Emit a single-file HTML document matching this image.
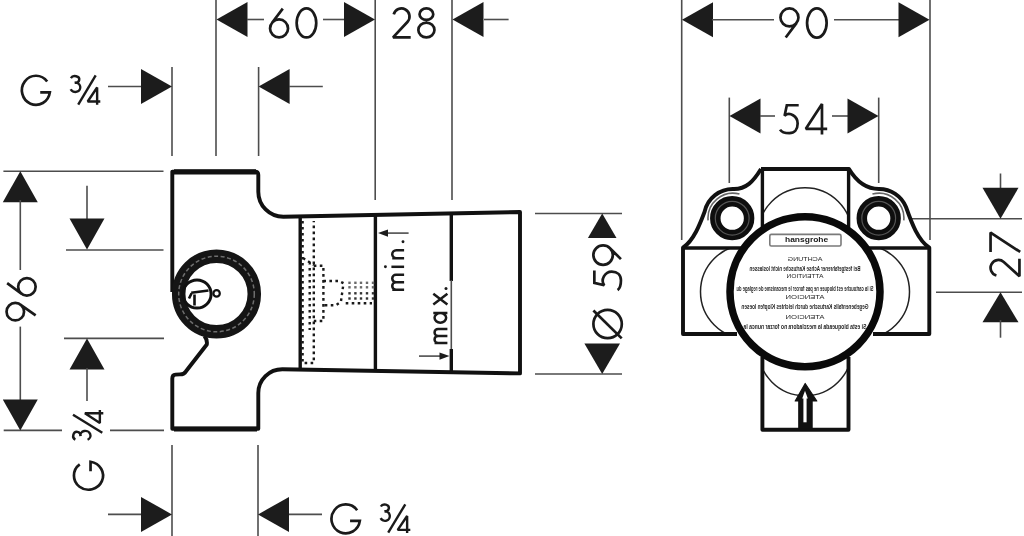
<!DOCTYPE html>
<html><head><meta charset="utf-8"><style>
html,body{margin:0;padding:0;background:#fff;width:1024px;height:536px;overflow:hidden}
svg{display:block;filter:grayscale(1)}
text{font-family:"Liberation Sans",sans-serif;fill:#1a1a1a}
.t{stroke:#4d4d4d;stroke-width:1.6;fill:none}
.k{stroke:#111;stroke-width:3.9;fill:none;stroke-linejoin:round}
.k5{stroke:#111;stroke-width:5.2;fill:none}
.k3{stroke:#111;stroke-width:3.4;fill:none}
.k2{stroke:#111;stroke-width:2.4;fill:none}
.w{stroke:#fff;stroke-width:2.4}
.ah{fill:#1c1c1c}
.ring{fill:none;stroke:#151515;stroke-width:13.5}
.ringd{fill:none;stroke:#6e6e6e;stroke-width:1.5;stroke-dasharray:4 2.5}
.big{fill:none;stroke:#0a0a0a;stroke-width:7.5}
.boss{fill:none;stroke:#0e0e0e;stroke-width:10.5}
.bossh{fill:none;stroke:#666;stroke-width:1.6}
.bossg{fill:none;stroke:#555;stroke-width:1.2}
.pa{fill:none;stroke:#222;stroke-width:1.5}
.dash{fill:none;stroke:#1a1a1a;stroke-width:2.4;stroke-dasharray:2.6 3.4}
.lg{font-size:8px;font-weight:bold;fill:#1a1a1a}
.st{font-size:6.6px;fill:#1e1e1e;font-weight:bold}
.ss{font-size:5.6px;fill:#222}
.gl{fill:none;stroke:#1a1a1a;stroke-linecap:butt;stroke-linejoin:miter;stroke-miterlimit:1.6}
</style></head><body>
<svg width="1024" height="536" viewBox="0 0 1024 536">
<defs>
<clipPath id="bodyclip"><path d="M762.4,169 H848.6 V247.7 H929.3 V334 H848.6 V429.7 H762.4 V334 H683 V247.7 H762.4 Z"/></clipPath>
<clipPath id="inner"><circle cx="805" cy="291.7" r="71"/></clipPath>
<mask id="bigmask"><rect width="1024" height="536" fill="#fff"/><circle cx="805" cy="291.7" r="75" fill="#000"/></mask>
</defs>
<line class="t" x1="172.0" y1="67.0" x2="172.0" y2="156.0"/>
<line class="t" x1="216.0" y1="0.0" x2="216.0" y2="156.0"/>
<line class="t" x1="258.6" y1="67.0" x2="258.6" y2="156.0"/>
<line class="t" x1="375.2" y1="0.0" x2="375.2" y2="200.0"/>
<line class="t" x1="452.0" y1="0.0" x2="452.0" y2="200.0"/>
<line class="t" x1="172.0" y1="445.0" x2="172.0" y2="536.0"/>
<line class="t" x1="258.0" y1="445.0" x2="258.0" y2="536.0"/>
<polygon class="ah" points="247.5,2.0 216.5,19.5 247.5,37.0"/>
<line class="t" x1="247.0" y1="19.5" x2="264.0" y2="19.5"/>
<line class="t" x1="323.0" y1="19.5" x2="344.0" y2="19.5"/>
<polygon class="ah" points="344.0,2.0 375.0,19.5 344.0,37.0"/>
<polygon class="ah" points="483.5,2.0 452.5,19.5 483.5,37.0"/>
<line class="t" x1="484.0" y1="19.5" x2="508.6" y2="19.5"/>
<line class="t" x1="108.0" y1="86.5" x2="141.0" y2="86.5"/>
<polygon class="ah" points="141.0,69.0 172.0,86.5 141.0,104.0"/>
<polygon class="ah" points="289.6,69.0 258.6,86.5 289.6,104.0"/>
<line class="t" x1="289.0" y1="86.5" x2="322.8" y2="86.5"/>
<line class="t" x1="108.0" y1="514.4" x2="141.0" y2="514.4"/>
<polygon class="ah" points="141.0,496.9 172.0,514.4 141.0,531.9"/>
<polygon class="ah" points="289.0,496.9 258.0,514.4 289.0,531.9"/>
<line class="t" x1="289.0" y1="514.4" x2="322.0" y2="514.4"/>
<line class="t" x1="3.4" y1="171.2" x2="163.5" y2="171.2"/>
<line class="t" x1="3.7" y1="430.4" x2="62.0" y2="430.4"/>
<line class="t" x1="110.0" y1="430.4" x2="164.0" y2="430.4"/>
<polygon class="ah" points="2.8,202.2 20.3,171.2 37.8,202.2"/>
<line class="t" x1="20.3" y1="200.0" x2="20.3" y2="270.0"/>
<line class="t" x1="20.3" y1="326.6" x2="20.3" y2="401.0"/>
<polygon class="ah" points="2.8,399.4 20.3,430.4 37.8,399.4"/>
<line class="t" x1="66.0" y1="250.0" x2="163.5" y2="250.0"/>
<line class="t" x1="64.0" y1="338.4" x2="164.0" y2="338.4"/>
<line class="t" x1="87.0" y1="185.8" x2="87.0" y2="220.0"/>
<polygon class="ah" points="69.5,218.6 87.0,249.6 104.5,218.6"/>
<polygon class="ah" points="69.5,369.4 87.0,338.4 104.5,369.4"/>
<line class="t" x1="87.0" y1="368.0" x2="87.0" y2="401.0"/>
<line class="t" x1="535.0" y1="213.5" x2="622.0" y2="213.5"/>
<line class="t" x1="535.0" y1="374.0" x2="622.0" y2="374.0"/>
<polygon class="ah" points="587.9,238.0 602.2,213.5 616.5,238.0"/>
<polygon class="ah" points="584.4,343.4 602.2,374.0 620.0,343.4"/>
<path class="k" d="M204.5,336 Q207.5,340 206.8,344.5 L186,371.3 Q184,374.3 180,374.4 L175.5,374.6 Q172.3,374.8 172.3,378.5 V428.7 H258.3 V393 A24,24 0 0 1 282.3,369.3 L520,373.4 V212 L283.3,216.8 A25,25 0 0 1 258.3,191.8 V175 Q258.3,171.6 255,171.6 H172.3 V292"/>
<line class="k3" x1="300.2" y1="216.4" x2="300.2" y2="369.4"/>
<line class="k5" x1="174.0" y1="171.9" x2="256.0" y2="171.9"/>
<line class="k5" x1="174.0" y1="429.0" x2="257.0" y2="429.0"/>
<line class="k3" x1="375.4" y1="215.0" x2="375.4" y2="370.6"/>
<line class="k3" x1="451.3" y1="213.5" x2="451.3" y2="281.0"/>
<line class="t" x1="451.3" y1="280.0" x2="451.3" y2="350.0"/>
<line class="k3" x1="451.3" y1="349.0" x2="451.3" y2="372.6"/>
<circle class="ring" cx="216.5" cy="294" r="37.8"/>
<circle class="ringd" cx="216.5" cy="294" r="37.8"/>
<circle class="k3" style="stroke-width:3" cx="197" cy="294" r="14.1"/>
<circle class="k2" style="stroke-width:2.2" cx="216.6" cy="293.4" r="3.2"/>
<path class="k2" style="stroke-width:2.6" d="M191.2,292.8 L208.5,290.5 M191.6,293.2 L189,298.5 M194.5,294.4 L194.5,305.6"/>
<path class="dash" d="M302.6,221 V363 H313.8 V221 M309.7,262 V330 M303,258 L313.8,265 M313.8,265.7 H323.4 V321 H313.8 M323.4,281 H339 L343.5,283.2 L340.9,301.8 L336,305.2 H323.4 M345.7,303.3 H372"/>
<rect x="348.3" y="281.6" width="2.4" height="2.4" fill="#6a6a6a"/><rect x="354.2" y="281.6" width="2.4" height="2.4" fill="#6a6a6a"/><rect x="359.8" y="281.6" width="2.4" height="2.4" fill="#6a6a6a"/><rect x="365.8" y="281.6" width="2.4" height="2.4" fill="#6a6a6a"/><rect x="371.8" y="281.6" width="2.4" height="2.4" fill="#6a6a6a"/><rect x="348.3" y="286.1" width="2.4" height="2.4" fill="#6a6a6a"/><rect x="354.2" y="286.1" width="2.4" height="2.4" fill="#6a6a6a"/><rect x="359.8" y="286.1" width="2.4" height="2.4" fill="#6a6a6a"/><rect x="365.8" y="286.1" width="2.4" height="2.4" fill="#6a6a6a"/><rect x="371.8" y="286.1" width="2.4" height="2.4" fill="#6a6a6a"/><rect x="348.3" y="292.1" width="2.4" height="2.4" fill="#333"/><rect x="354.2" y="292.1" width="2.4" height="2.4" fill="#333"/><rect x="359.8" y="292.1" width="2.4" height="2.4" fill="#333"/><rect x="365.8" y="292.1" width="2.4" height="2.4" fill="#333"/><rect x="371.8" y="292.1" width="2.4" height="2.4" fill="#333"/><rect x="348.3" y="297.3" width="2.4" height="2.4" fill="#333"/><rect x="354.2" y="297.3" width="2.4" height="2.4" fill="#333"/><rect x="359.8" y="297.3" width="2.4" height="2.4" fill="#333"/><rect x="365.8" y="297.3" width="2.4" height="2.4" fill="#333"/><rect x="371.8" y="297.3" width="2.4" height="2.4" fill="#333"/>
<line class="t" x1="381.0" y1="233.1" x2="408.6" y2="233.1"/>
<polygon class="ah" points="378,233.1 388,229.5 388,236.7"/>
<line class="t" x1="419.0" y1="356.1" x2="442.0" y2="356.1"/>
<polygon class="ah" points="449.5,356.1 439.5,352.5 439.5,359.7"/>
<line class="t" x1="681.7" y1="0.0" x2="681.7" y2="240.0"/>
<line class="t" x1="930.0" y1="0.0" x2="930.0" y2="240.0"/>
<polygon class="ah" points="713.0,2.2 682.0,19.7 713.0,37.2"/>
<line class="t" x1="712.0" y1="19.7" x2="774.0" y2="19.7"/>
<line class="t" x1="834.0" y1="19.7" x2="899.0" y2="19.7"/>
<polygon class="ah" points="898.5,2.2 929.5,19.7 898.5,37.2"/>
<line class="t" x1="729.3" y1="97.6" x2="729.3" y2="183.0"/>
<line class="t" x1="878.7" y1="97.6" x2="878.7" y2="183.0"/>
<polygon class="ah" points="760.5,98.5 729.5,116.0 760.5,133.5"/>
<line class="t" x1="760.0" y1="116.0" x2="775.0" y2="116.0"/>
<line class="t" x1="832.0" y1="116.0" x2="848.0" y2="116.0"/>
<polygon class="ah" points="847.5,98.5 878.5,116.0 847.5,133.5"/>
<line class="t" x1="911.6" y1="218.8" x2="1022.0" y2="218.8"/>
<line class="t" x1="936.0" y1="292.3" x2="1022.0" y2="292.3"/>
<line class="t" x1="1000.5" y1="173.5" x2="1000.5" y2="190.0"/>
<polygon class="ah" points="982.5,187.8 1000.5,218.8 1018.5,187.8"/>
<polygon class="ah" points="982.5,322.3 1000.5,292.3 1018.5,322.3"/>
<line class="t" x1="1000.5" y1="320.0" x2="1000.5" y2="337.7"/>
<g clip-path="url(#bodyclip)"><g mask="url(#bigmask)"><circle class="pa" cx="805" cy="234.7" r="47"/><circle class="pa" cx="805" cy="348.7" r="47"/><circle class="pa" cx="747.5" cy="291.7" r="47"/><circle class="pa" cx="862.5" cy="291.7" r="47"/></g></g>
<path class="k" d="M761,169 H849 C858,184 868,189 879,189 A29,29 0 0 1 906,207 C912,224 918,240 929.3,247.7 V334 H873 M848.5,357 V429.7 H762.4 V357 M737,334 H683 V247.7 C694,240 700,224 704.5,212 A29,29 0 0 1 734,189 C746,189 753,182 761,169"/>
<line class="k3" x1="762.4" y1="169.0" x2="762.4" y2="231.0"/>
<line class="k3" x1="848.6" y1="169.0" x2="848.6" y2="231.0"/>
<line class="k3" x1="683.0" y1="248.0" x2="744.0" y2="248.0"/>
<line class="k3" x1="866.0" y1="248.0" x2="929.0" y2="248.0"/>
<circle class="big" cx="805" cy="291.7" r="75"/>
<circle class="boss" cx="732.2" cy="218.2" r="16.9"/>
<circle class="bossg" cx="732.2" cy="218.2" r="16.9"/>
<circle class="boss" cx="878.7" cy="218.2" r="16.9"/>
<circle class="bossg" cx="878.7" cy="218.2" r="16.9"/>
<path class="bossh" d="M708.10,220.38 A25.00,25.00 0 0 1 739.47,194.05 M872.43,194.05 A25.00,25.00 0 0 1 903.80,220.38"/>
<rect x="769.8" y="234.4" width="71.2" height="11.6" rx="1.5" fill="none" stroke="#7a7a7a" stroke-width="1.6"/>
<text class="lg" x="785" y="241.8" textLength="43.2" lengthAdjust="spacingAndGlyphs">hansgrohe</text>
<g clip-path="url(#inner)">
<text class="ss" x="787.5" y="261.2" textLength="35" lengthAdjust="spacingAndGlyphs" transform="translate(1610,0) scale(-1,1)">ACHTUNG</text>
<text class="st" x="749.5" y="270.5" textLength="111" lengthAdjust="spacingAndGlyphs" transform="translate(1610,0) scale(-1,1)">Bei festgefahrener Achse Kartusche nicht loslassen</text>
<text class="ss" x="786.5" y="277.8" textLength="37" lengthAdjust="spacingAndGlyphs" transform="translate(1610,0) scale(-1,1)">ATTENTION</text>
<text class="st" x="736.5" y="290.8" textLength="137" lengthAdjust="spacingAndGlyphs" transform="translate(1610,0) scale(-1,1)">Si la cartouche est bloquee ne pas forcer le mecanisme de reglage du</text>
<text class="ss" x="785.5" y="299.3" textLength="39" lengthAdjust="spacingAndGlyphs" transform="translate(1610,0) scale(-1,1)">ATENCION</text>
<text class="st" x="741.5" y="308.9" textLength="127" lengthAdjust="spacingAndGlyphs" transform="translate(1610,0) scale(-1,1)">Gegebenenfalls Kartusche durch leichtes Klopfen loesen</text>
<text class="ss" x="785.5" y="319.0" textLength="39" lengthAdjust="spacingAndGlyphs" transform="translate(1610,0) scale(-1,1)">ATENCION</text>
<text class="st" x="743.5" y="329.0" textLength="123" lengthAdjust="spacingAndGlyphs" transform="translate(1610,0) scale(-1,1)">Si esta bloqueada la mezcladora no forzar nunca la</text>
</g>
<path d="M798.8,429 V401 H795.2 L805.2,383.5 L816.8,401 H812.1 V429 Z" fill="#111" stroke="#111" stroke-width="1.2" stroke-linejoin="round"/>
<path d="M805,422.3 V396" stroke="#fff" stroke-width="3.2" fill="none"/><polygon points="802.2,398.5 805,390.8 807.8,398.5" fill="#fff"/>
<path class="gl" style="stroke-width:2.70" transform="translate(268.70,7.30)" d="M14.08 1.35 L3.18 15.71 M1.35 21.15 A9 9 0 1 1 19.35 21.15 A9 9 0 1 1 1.35 21.15 Z"/>
<path class="gl" style="stroke-width:2.70" transform="translate(295.30,7.10)" d="M1.35 15.85 A9.8 14.5 0 1 1 20.95 15.85 A9.8 14.5 0 1 1 1.35 15.85 Z"/>
<path class="gl" style="stroke-width:2.70" transform="translate(391.50,7.10)" d="M2.23 7.31 A8.04 8.04 0 1 1 15.9 14.86 L1.55 30.35 L19.2 30.35"/>
<path class="gl" style="stroke-width:2.70" transform="translate(417.00,7.10)" d="M2.55 7.05 A6.85 5.7 0 1 1 16.25 7.05 A6.85 5.7 0 1 1 2.55 7.05 Z M1.35 22.9 A8.05 7.45 0 1 1 17.45 22.9 A8.05 7.45 0 1 1 1.35 22.9 Z"/>
<path class="gl" style="stroke-width:2.70" transform="translate(779.10,7.10) translate(20.70,31.70) rotate(180)" d="M14.08 1.35 L3.14 15.96 M1.35 21.35 A9 9 0 1 1 19.35 21.35 A9 9 0 1 1 1.35 21.35 Z"/>
<path class="gl" style="stroke-width:2.70" transform="translate(805.70,7.10)" d="M1.35 15.95 A9.8 14.6 0 1 1 20.95 15.95 A9.8 14.6 0 1 1 1.35 15.95 Z"/>
<path class="gl" style="stroke-width:2.70" transform="translate(778.70,103.90)" d="M20 1.35 L8.12 1.35 L5.89 11.78 C10.96 7.5 18.95 12.33 18.95 19.58 C18.95 25.58 15.68 29.25 10.66 29.25 C4.57 29.25 2.44 27.54 1.35 25.7"/>
<path class="gl" style="stroke-width:2.70" transform="translate(804.50,103.10)" d="M17.48 31.4 L17.48 0.81 L1.35 25.75 L22.7 25.75 M17.48 0.81 L17.48 31.4"/>
<path class="gl" style="stroke-width:2.70" transform="translate(20.40,74.20)" d="M26.77 7.35 A14.05 14.55 0 1 0 29.45 18.13 L19.83 18.13"/>
<path class="gl" style="stroke-width:2.40" transform="translate(69.00,74.90)" d="M1.89 3.15 A4.4 3.37 0 1 1 5.88 7.95 M5.62 7.79 A5.05 4.66 0 1 1 1.67 14.41"/>
<line class="gl" style="stroke-width:2.40" x1="78.2" y1="104.6" x2="95.7" y2="75.4"/>
<path class="gl" style="stroke-width:2.40" transform="translate(86.50,86.80)" d="M10.63 17.9 L10.63 0.72 L1.2 14.68 L13.8 14.68 M10.63 0.72 L10.63 17.9"/>
<path class="gl" style="stroke-width:2.70" transform="translate(330.00,502.90)" d="M27.13 7.31 A14.25 14.45 0 1 0 29.85 18.01 L20.07 18.01"/>
<path class="gl" style="stroke-width:2.40" transform="translate(379.00,503.30)" d="M1.83 3.22 A4.2 3.5 0 1 1 5.64 8.2 M5.4 7.97 A4.8 4.82 0 1 1 1.65 14.82"/>
<line class="gl" style="stroke-width:2.40" x1="388.2" y1="532.6" x2="405.3" y2="504.3"/>
<path class="gl" style="stroke-width:2.40" transform="translate(396.50,515.30)" d="M10.63 17.8 L10.63 0.72 L1.2 14.6 L13.8 14.6 M10.63 0.72 L10.63 17.8"/>
<path class="gl" style="stroke-width:2.70" transform="translate(5.20,321.80) rotate(-90) translate(20.20,31.80) rotate(180)" d="M13.74 1.35 L2.95 16.66 M1.35 21.7 A8.75 8.75 0 1 1 18.85 21.7 A8.75 8.75 0 1 1 1.35 21.7 Z"/>
<path class="gl" style="stroke-width:2.70" transform="translate(5.80,296.90) rotate(-90)" d="M13.74 1.35 L3.04 15.92 M1.35 21.1 A8.75 8.75 0 1 1 18.85 21.1 A8.75 8.75 0 1 1 1.35 21.1 Z"/>
<path class="gl" style="stroke-width:2.70" transform="translate(72.40,491.20) rotate(-90)" d="M26.77 7.35 A14.05 14.55 0 1 0 29.45 18.13 L19.83 18.13"/>
<path class="gl" style="stroke-width:2.40" transform="translate(72.00,441.40) rotate(-90)" d="M1.8 3.35 A4.08 3.73 0 1 1 5.5 8.65 M5.26 8.29 A4.65 5.1 0 1 1 1.64 15.55"/>
<line class="gl" style="stroke-width:2.40" x1="73.0" y1="414.7" x2="102.3" y2="432.7"/>
<path class="gl" style="stroke-width:2.40" transform="translate(84.20,424.10) rotate(-90)" d="M10.78 19.1 L10.78 0.72 L1.2 15.66 L14 15.66 M10.78 0.72 L10.78 19.1"/>
<path class="gl" style="stroke-width:2.70" transform="translate(592.00,266.20) rotate(-90) translate(22.20,30.30) rotate(180)" d="M15.1 1.35 L4.19 12.33 M1.35 19.2 A9.75 9.75 0 1 1 20.85 19.2 A9.75 9.75 0 1 1 1.35 19.2 Z"/>
<path class="gl" style="stroke-width:2.70" transform="translate(593.00,291.40) rotate(-90)" d="M20.9 1.35 L8.48 1.35 L6.15 11.28 C11.45 7.18 19.85 11.85 19.85 18.75 C19.85 24.45 16.4 27.95 11.13 27.95 C4.77 27.95 2.54 26.37 1.35 24.61"/>
<circle class="gl" style="stroke-width:2.7" cx="607.6" cy="324" r="14.2"/>
<line class="gl" style="stroke-width:2.70" x1="593.4" y1="310.5" x2="621.7" y2="338.4"/>
<path class="gl" style="stroke-width:2.70" transform="translate(989.20,253.30) rotate(-90)" d="M1.35 1.35 L20.75 1.35 L1.33 31"/>
<path class="gl" style="stroke-width:2.70" transform="translate(989.20,277.70) rotate(-90)" d="M2.21 7.21 A7.9 7.9 0 1 1 15.72 14.55 L1.55 30.25 L18.91 30.25"/>
<path class="gl" style="stroke-width:2.50" transform="translate(391.00,290.90) rotate(-90)" d="M1.25 13.1 L1.25 1.25 M1.25 4.97 A3.72 3.72 0 0 1 8.7 4.97 L8.7 13.1 M8.7 4.97 A3.72 3.72 0 0 1 16.15 4.97 L16.15 13.1"/>
<path class="gl" style="stroke-width:2.50" transform="translate(391.40,268.00) rotate(-90)" d="M1.2 0 L1.2 12.7"/>
<path class="gl" style="stroke-width:2.50" transform="translate(391.00,259.60) rotate(-90)" d="M1.25 13.1 L1.25 1.25 M1.25 5.3 A4.05 4.05 0 0 1 9.35 5.3 L9.35 13.1"/>
<circle cx="385.4" cy="266.8" r="1.45" fill="#1a1a1a"/><circle cx="403" cy="241.8" r="1.45" fill="#1a1a1a"/>
<path class="gl" style="stroke-width:2.50" transform="translate(433.30,344.20) rotate(-90)" d="M1.25 14.1 L1.25 1.25 M1.25 4.75 A3.5 3.5 0 0 1 8.25 4.75 L8.25 14.1 M8.25 4.75 A3.5 3.5 0 0 1 15.25 4.75 L15.25 14.1"/>
<path class="gl" style="stroke-width:2.50" transform="translate(433.30,323.90) rotate(-90)" d="M10.85 0 L10.85 14.1 M1.25 7.05 A4.8 5.8 0 1 1 10.85 7.05 A4.8 5.8 0 1 1 1.25 7.05 Z"/>
<path class="gl" style="stroke-width:2.50" transform="translate(433.30,304.80) rotate(-90)" d="M0.4 0 L11 14.1 M11 0 L0.4 14.1"/>
<circle cx="446" cy="288.4" r="1.5" fill="#1a1a1a"/>
</svg>
</body></html>
